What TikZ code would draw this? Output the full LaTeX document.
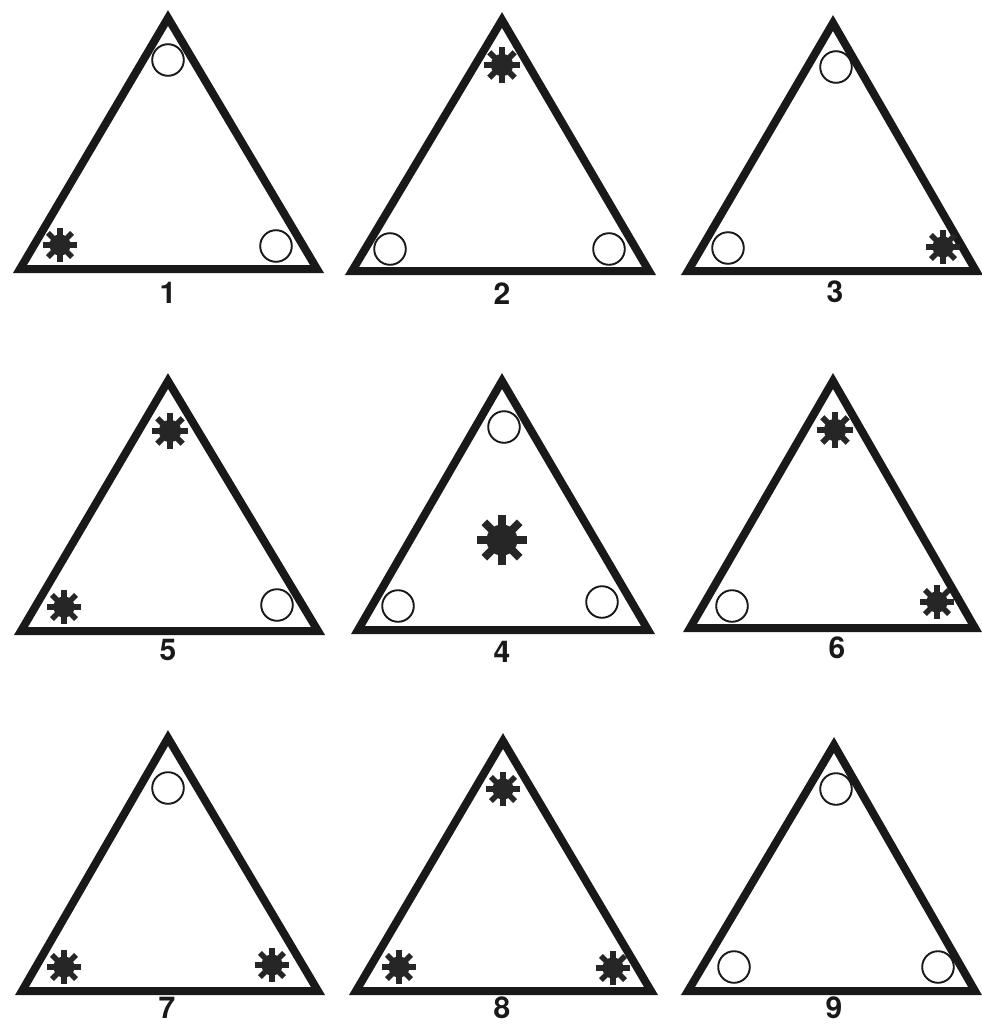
\documentclass[tikz,border=0pt]{standalone}
\usepackage{fontspec}
\setsansfont{TeX Gyre Heros}
\tikzset{
  tri/.style={line width=8pt, line join=miter, draw=black!90},
  ring/.style={line width=1.9pt, draw=black!90},
  lbl/.style={font=\sffamily\bfseries\fontsize{30}{30}\selectfont, anchor=base, inner sep=0pt, text=black!90},
  starfill/.style={black!85},
}
\newcommand\tri[6]{% name, apex x, apex y, left x, right x, base y (outer edges, px)
  \coordinate (#1a) at (#2,-#3-8);
  \coordinate (#1l) at (#4+7,-#6+4);
  \coordinate (#1r) at (#5-7,-#6+4);
  \draw[tri] (#1a) -- (#1l) -- (#1r) -- cycle;}
\newcommand\ring[2]{\draw[ring] (#1,-#2) circle (15.8pt);}
\newcommand\astar[3]{%
  \begin{scope}[shift={(#1,-#2)}]
    \fill[starfill] (0,0) circle ({0.62*#3 pt});
    \foreach \a in {0,45,90,135}{\draw[starfill,line width={0.32*#3 pt}] (\a:#3) -- (\a+180:#3);}
  \end{scope}}
\begin{document}
\begin{tikzpicture}[x=1pt,y=1pt]
\useasboundingbox[fill=white] (0,0) rectangle (982,-1025);
% row 1
\tri{t1}{168}{10}{13}{324}{273}
\ring{168}{60}\ring{276}{246}\astar{60}{245}{17}
\node[lbl] (l1) at (168,-303) {1};
\tri{t2}{502}{12}{345}{656}{275}
\astar{502}{65}{18}\ring{390}{249}\ring{609}{249}
\node[lbl] (l2) at (502,-304) {2};
\tri{t3}{833}{15}{681}{983}{275}
\ring{836}{67}\ring{728}{248}\astar{943}{247}{17}
\node[lbl] (l3) at (835,-302) {3};
% row 2
\tri{t5}{168}{373}{14}{325}{635}
\astar{170}{431}{18}\astar{64}{607}{17}\ring{277}{605}
\node[lbl] (l5) at (168,-660) {5};
\tri{t4}{502}{373}{351}{655}{634}
\ring{504}{427}\astar{502}{540}{25}\ring{398}{606}\ring{602}{602}
\node[lbl] (l4) at (502,-662) {4};
\tri{t6}{833}{373}{683}{982}{632}
\astar{835}{430}{18}\ring{732}{606}\astar{937}{602}{17}
\node[lbl] (l6) at (837,-658) {6};
% row 3
\tri{t7}{168}{730}{15}{325}{995}
\ring{168}{788}\astar{64}{967}{17}\astar{272}{965}{17}
\node[lbl] (l7) at (167,-1018) {7};
\tri{t8}{503}{733}{349}{658}{995}
\astar{503}{789}{17}\astar{399}{967}{17}\astar{613}{968}{17}
\node[lbl] (l8) at (502,-1018) {8};
\tri{t9}{834}{737}{681}{982}{995}
\ring{836}{789}\ring{734}{967}\ring{938}{967}
\node[lbl] (l9) at (834,-1018) {9};
\end{tikzpicture}
\end{document}
